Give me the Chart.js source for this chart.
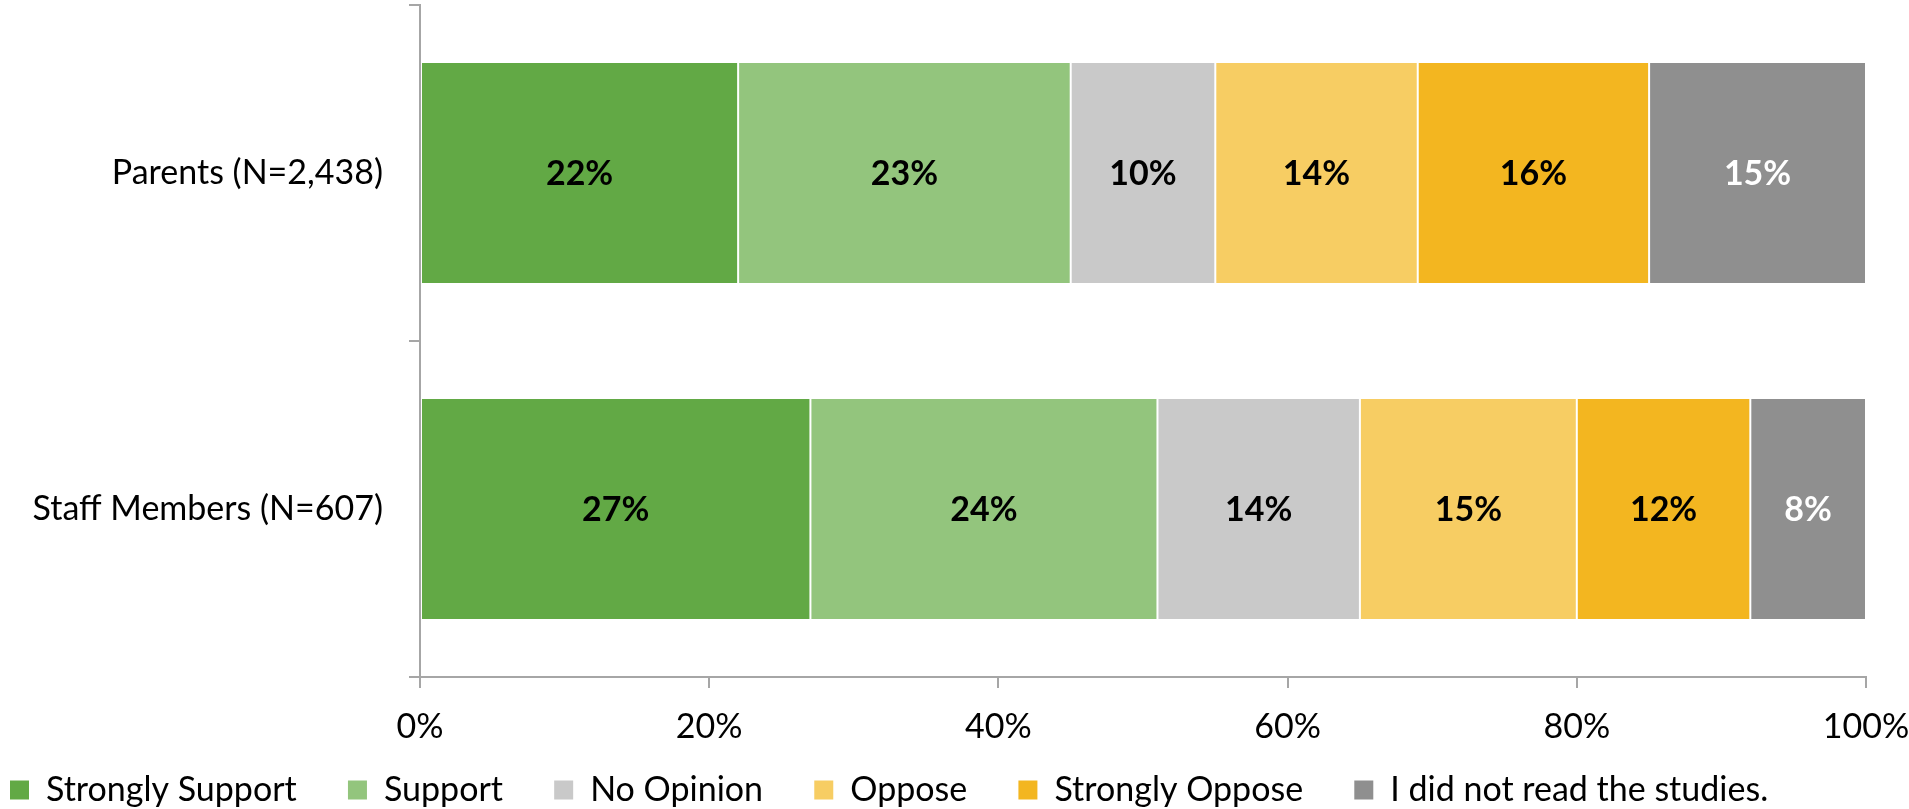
<!DOCTYPE html>
<html>
<head>
<meta charset="utf-8">
<script src="https://cdn.jsdelivr.net/npm/chart.js@4"></script>
<style>
  html, body { margin: 0; padding: 0; background: #fff; }
  #wrap { width: 1909px; height: 809px; }
</style>
</head>
<body>
<div id="wrap"><canvas id="grafico" width="1909" height="809"></canvas></div>
<script>
// categorias e séries
const grupos = ['Parents (N=2,438)', 'Staff Members (N=607)'];
const respostas = ['Strongly Support', 'Support', 'No Opinion', 'Oppose', 'Strongly Oppose', 'I did not read the studies.'];
const fortementeApoia = [22, 27];
const apoia = [23, 24];
const semOpiniao = [10, 14];
const opoe = [14, 15];
const fortementeOpoe = [16, 12];
const naoLeu = [15, 8];
const ticksX = [0, 20, 40, 60, 80, 100];

const cores = ['#62A945', '#93C57D', '#C9C9C9', '#F7CD63', '#F3B620', '#8F8F8F'];
const series = [fortementeApoia, apoia, semOpiniao, opoe, fortementeOpoe, naoLeu];
const fonte = 'Lato, "Open Sans", sans-serif';

// rótulos dentro das barras
const rotulos = {
  id: 'rotulos',
  afterDatasetsDraw(chart) {
    const ctx = chart.ctx;
    ctx.save();
    ctx.font = 'bold 34px ' + fonte;
    ctx.textAlign = 'center';
    ctx.textBaseline = 'middle';
    chart.data.datasets.forEach((ds, i) => {
      const meta = chart.getDatasetMeta(i);
      meta.data.forEach((bar, j) => {
        ctx.fillStyle = i === 5 ? '#ffffff' : '#000000';
        ctx.fillText(ds.data[j] + '%', (bar.x + bar.base) / 2, bar.y + 1);
      });
    });
    ctx.restore();
  }
};

// legenda: espaço extra entre itens (o padding também mexe na altura)
function gerarLegenda(chart) {
  const itens = Chart.defaults.plugins.legend.labels.generateLabels(chart);
  itens.forEach((it, i) => {
    if (i < itens.length - 1) it.text = it.text + '\u2003 ';
    it.lineWidth = 0;
  });
  return itens;
}

new Chart(document.getElementById('grafico'), {
  type: 'bar',
  data: {
    labels: grupos,
    datasets: respostas.map((r, i) => ({
      label: r,
      data: series[i],
      backgroundColor: cores[i],
      borderColor: '#ffffff',
      borderWidth: 1,
      borderSkipped: false,
      categoryPercentage: 1,
      barPercentage: 0.66
    }))
  },
  options: {
    indexAxis: 'y',
    responsive: false,
    animation: false,
    layout: { padding: { top: 5, right: 43, left: -7, bottom: 0 } },
    plugins: {
      legend: {
        position: 'bottom',
        align: 'start',
        maxHeight: 53,
        labels: {
          boxWidth: 19,
          boxHeight: 19,
          padding: 17,
          color: '#000',
          font: { family: fonte, size: 34 },
          generateLabels: gerarLegenda
        }
      },
      tooltip: { enabled: false }
    },
    scales: {
      x: {
        stacked: true,
        min: 0,
        max: 100,
        afterFit: s => { s.height = 79; s.paddingLeft = 0; s.paddingRight = 0; },
        afterBuildTicks: s => { s.ticks = ticksX.map(v => ({ value: v })); },
        ticks: {
          padding: 19,
          color: '#000',
          font: { family: fonte, size: 34 },
          callback: v => v + '%'
        },
        grid: { drawOnChartArea: false, tickLength: 11, color: '#A6A6A6', lineWidth: 2 },
        border: { color: '#A6A6A6', width: 2 }
      },
      y: {
        stacked: true,
        afterFit: s => { s.width = 427; s.paddingTop = 0; s.paddingBottom = 0; },
        ticks: {
          padding: 26,
          color: '#000',
          font: { family: fonte, size: 34 }
        },
        grid: { drawOnChartArea: false, offset: true, tickLength: 11, color: '#A6A6A6', lineWidth: 2 },
        border: { color: '#A6A6A6', width: 2 }
      }
    }
  },
  plugins: [rotulos]
});
</script>
</body>
</html>
